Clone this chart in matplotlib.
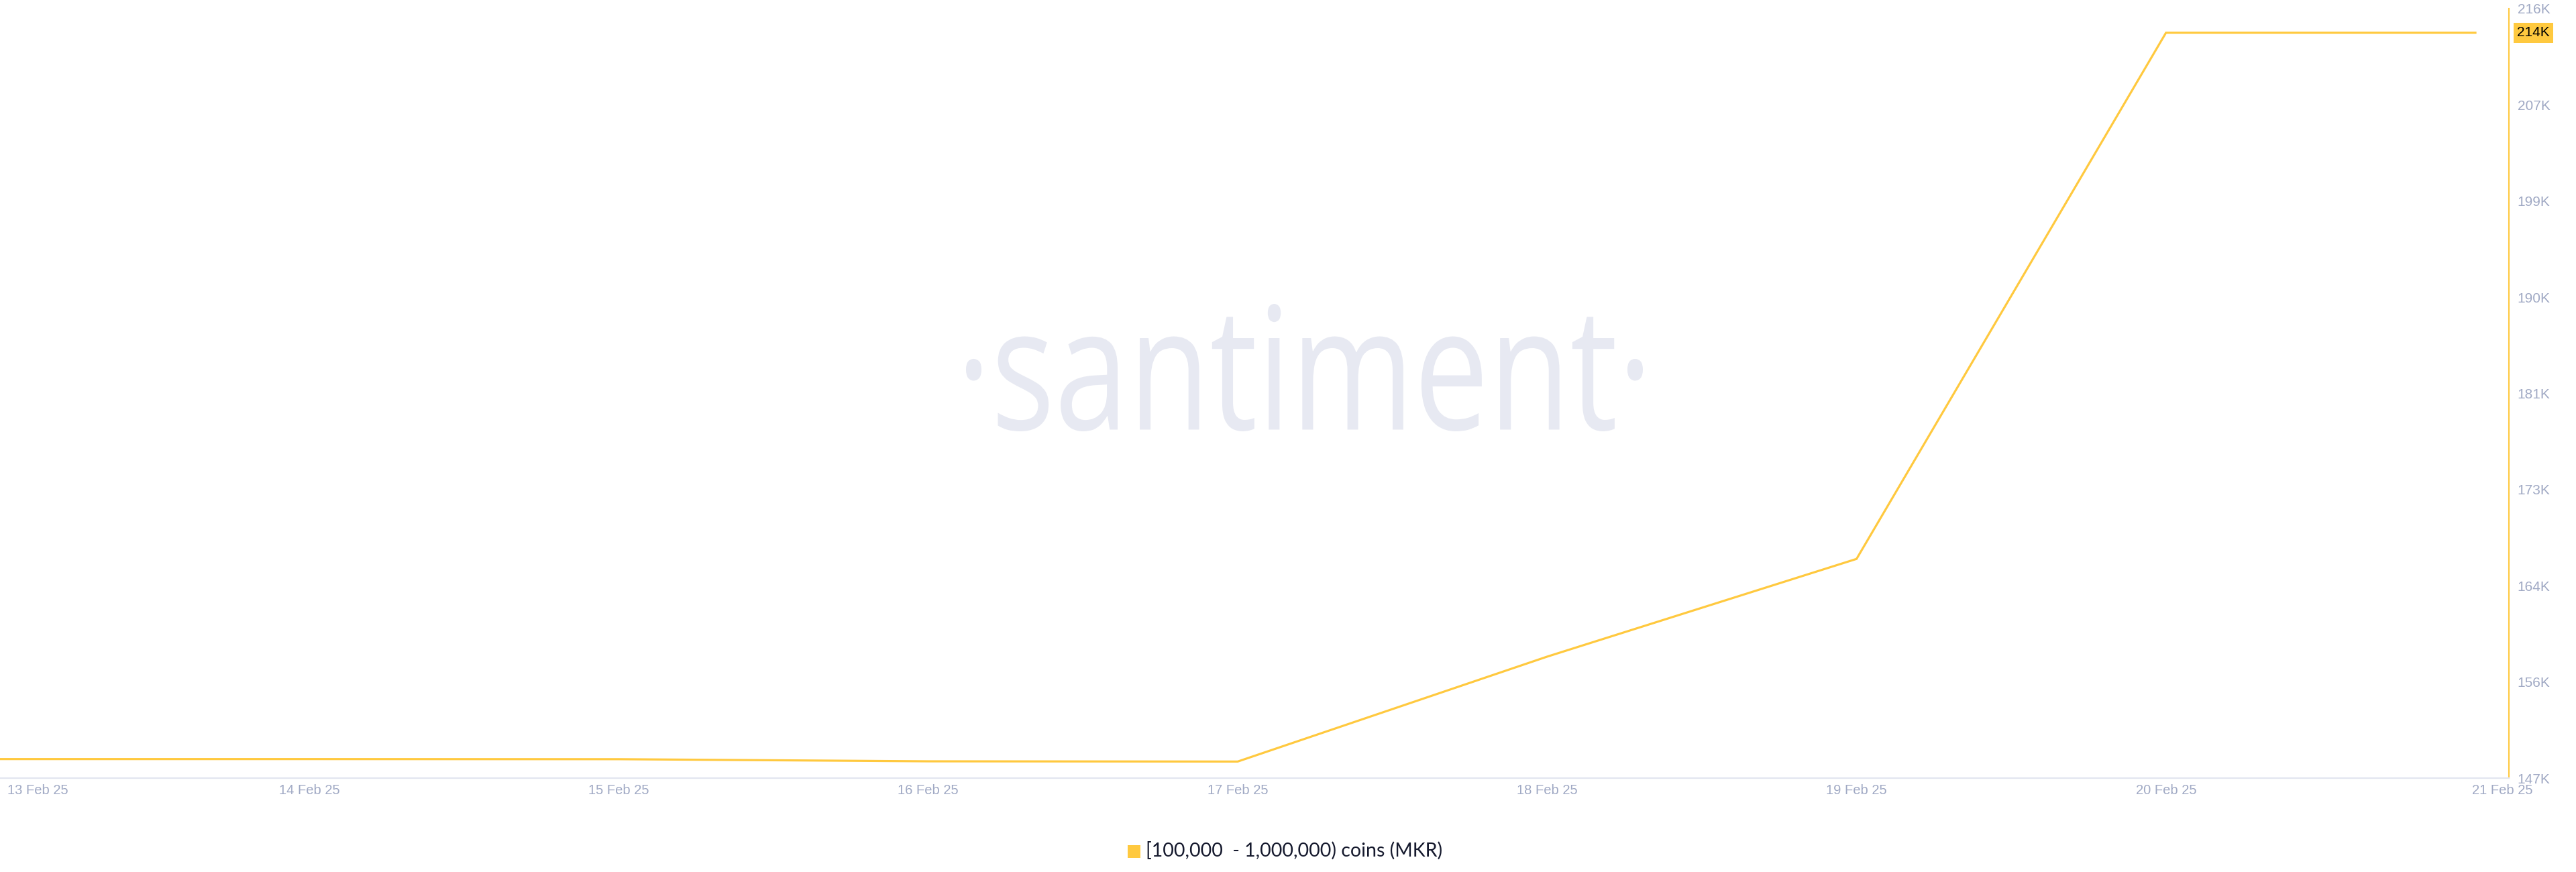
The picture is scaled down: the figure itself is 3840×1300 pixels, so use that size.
import numpy as np
import matplotlib
matplotlib.use("Agg")
from matplotlib import pyplot as plt
from matplotlib.textpath import TextPath
from matplotlib.patches import PathPatch, Rectangle
from matplotlib.font_manager import FontProperties
from matplotlib.transforms import Affine2D, IdentityTransform, blended_transform_factory

# data
dates = np.array(["2025-02-13", "2025-02-14", "2025-02-15", "2025-02-16", "2025-02-17",
                  "2025-02-18", "2025-02-19", "2025-02-20", "2025-02-21"], dtype="datetime64[h]")
holders = [148700, 148700, 148690, 148500, 148480, 157860, 166600, 213650, 213650]
date_labels = ["13 Feb 25", "14 Feb 25", "15 Feb 25", "16 Feb 25", "17 Feb 25",
               "18 Feb 25", "19 Feb 25", "20 Feb 25", "21 Feb 25"]
y_ticks = [147000, 155600, 164200, 172800, 181400, 190000, 198600, 207200, 215800]
y_labels = ["147K", "156K", "164K", "173K", "181K", "190K", "199K", "207K", "216K"]
last_label = "214K"
series_name = "[100,000  - 1,000,000) coins (MKR)"

YELLOW = "#ffc93f"
TICK_GREY = "#a0a9c4"
W, H, DPI = 3840, 1300, 100

fig = plt.figure(figsize=(W / DPI, H / DPI), dpi=DPI)
fig.patch.set_facecolor("white")
ax = fig.add_axes([0, 140 / H, 3740 / W, (1160 - 13) / H])
ax.patch.set_visible(False)

# watermark
wm_path = TextPath((0, 0), "\u00b7santiment\u00b7", size=100,
                   prop=FontProperties(family="Open Sans"))
ext = wm_path.get_extents()
x0, y0, x1, y1 = 1440, H - 643, 2449, H - 453
wm_tr = (Affine2D().translate(-ext.x0, -ext.y0)
         .scale((x1 - x0) / ext.width, (y1 - y0) / ext.height)
         .translate(x0, y0))
wm = PathPatch(wm_tr.transform_path(wm_path), facecolor="#e7e9f2", edgecolor="none",
               transform=IdentityTransform(), zorder=0, clip_on=False)
ax.add_patch(wm)

ax.plot(dates, holders, color=YELLOW, lw=2.3, zorder=3, solid_joinstyle="miter")

ax.set_xlim(dates[0], dates[-1] + np.timedelta64(156, "m"))
ax.set_ylim(y_ticks[0], y_ticks[-1])

for s in ["left", "top"]:
    ax.spines[s].set_visible(False)
ax.spines["right"].set_color(YELLOW)
ax.spines["right"].set_linewidth(1.5)
ax.spines["bottom"].set_color("#e2e6f0")
ax.spines["bottom"].set_linewidth(1.6)

ax.yaxis.tick_right()
ax.set_yticks(y_ticks, y_labels)
ax.tick_params(axis="y", length=0, pad=9, labelsize=15, labelcolor=TICK_GREY)
for lab in ax.get_yticklabels():
    lab.set_fontfamily("Liberation Sans")

ax.set_xticks([])
xt = blended_transform_factory(ax.transData, ax.transAxes)
for i, (d, lab) in enumerate(zip(dates, date_labels)):
    ha = "center"
    off = 0
    if i == 0:
        ha = "left"
        off = 11
    elif i == len(dates) - 1:
        off = 40
    t = ax.text(d, 0, lab, transform=xt, ha=ha, va="center", fontsize=14.5,
                color=TICK_GREY, family="Liberation Sans", clip_on=False)
    t.set_transform(xt + Affine2D().translate(off, -19))

# last value marker on the axis
yt = blended_transform_factory(ax.transAxes, ax.transData)
ax.text(1.0, holders[-1], last_label, transform=yt + Affine2D().translate(12, 0),
        ha="left", va="center", fontsize=15, color="black", family="Liberation Sans",
        bbox=dict(boxstyle="square,pad=0.25", facecolor=YELLOW, edgecolor="none"),
        clip_on=False)

# legend
fig.patches.append(Rectangle((1681, H - 1279), 19, 19, facecolor=YELLOW, edgecolor="none",
                             transform=IdentityTransform(), figure=fig))
fig.text(1708 / W, (H - 1268) / H, series_name, ha="left", va="center",
         fontsize=20.5, color="#161a2e", family="Lato")

fig.savefig("out.png", dpi=DPI, facecolor="white")
